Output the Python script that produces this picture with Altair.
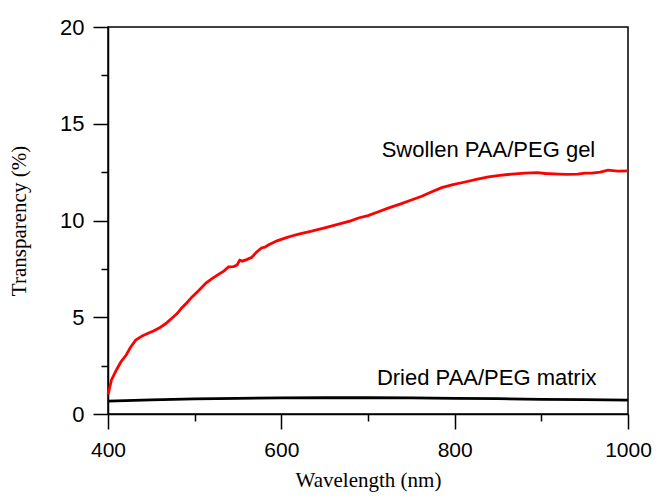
import altair as alt
import pandas as pd

# Swollen gel (red)
sw_x = [400, 404, 410, 415, 421, 426, 432, 440, 447, 453, 459, 466, 474, 480, 485, 491, 497, 505, 513, 520, 528, 534, 539, 545, 549, 552, 555, 560, 566, 571, 577, 581, 585, 595, 605, 612, 620, 635, 650, 665, 680, 689, 700, 712, 724, 737, 750, 762, 773, 785, 798, 812, 825, 839, 852, 866, 881, 895, 905, 920, 930, 942, 950, 958, 968, 977, 988, 1000]
sw_y = [1.0, 1.76, 2.3, 2.7, 3.05, 3.45, 3.82, 4.05, 4.19, 4.3, 4.44, 4.65, 4.96, 5.2, 5.48, 5.75, 6.05, 6.4, 6.77, 7.0, 7.23, 7.4, 7.6, 7.62, 7.7, 7.95, 7.9, 7.98, 8.1, 8.35, 8.58, 8.62, 8.73, 8.95, 9.1, 9.2, 9.3, 9.45, 9.62, 9.8, 9.98, 10.13, 10.25, 10.45, 10.65, 10.85, 11.06, 11.25, 11.47, 11.7, 11.85, 11.99, 12.12, 12.25, 12.33, 12.4, 12.45, 12.47, 12.43, 12.4, 12.38, 12.4, 12.45, 12.45, 12.5, 12.6, 12.55, 12.56]

# Dried matrix (black)
dr_x = [400, 450, 500, 550, 600, 650, 700, 750, 800, 850, 900, 950, 1000]
dr_y = [0.67, 0.73, 0.78, 0.81, 0.83, 0.84, 0.84, 0.83, 0.81, 0.79, 0.76, 0.74, 0.72]

lab_text = ["Swollen PAA/PEG gel", "Dried PAA/PEG matrix"]
lab_x = [839, 837]
lab_y = [13.64, 1.86]

sw = pd.DataFrame({"x": sw_x, "y": sw_y})
dr = pd.DataFrame({"x": dr_x, "y": dr_y})
labs = pd.DataFrame({"t": lab_text, "x": lab_x, "y": lab_y})

x_ticks = [400, 500, 600, 700, 800, 900, 1000]
y_ticks = [0, 2.5, 5, 7.5, 10, 12.5, 15, 17.5, 20]

xs = alt.Scale(domain=[400, 1000], nice=False, zero=False)
ys = alt.Scale(domain=[0, 20], nice=False)

xaxis = alt.Axis(
    title="Wavelength (nm)", values=x_ticks, format="d",
    labelExpr="datum.value % 200 === 0 ? datum.label : ''",
    tickSize={"condition": {"test": "datum.value % 200 === 0", "value": 15}, "value": 7},
    labelPadding=10, labelFont="Liberation Sans", labelFontSize=21,
    labelColor="black", titleFont="Liberation Serif", titleFontSize=21,
    titleFontWeight="normal", titleColor="black", titlePadding=9,
    domainColor="black", tickColor="black", domainWidth=1.5, tickWidth=1.5,
    grid=False, labelFlush=False,
)
yaxis = alt.Axis(
    title="Transparency (%)", values=y_ticks,
    labelExpr="datum.value % 5 === 0 ? datum.label : ''",
    tickSize={"condition": {"test": "datum.value % 5 === 0", "value": 15}, "value": 7},
    labelPadding=9, labelFont="Liberation Sans", labelFontSize=22,
    labelColor="black", titleFont="Liberation Serif", titleFontSize=21,
    titleFontWeight="normal", titleColor="black", titlePadding=30,
    domainColor="black", tickColor="black", domainWidth=1.5, tickWidth=1.5,
    grid=False, labelFlush=False,
)

red = alt.Chart(sw).mark_line(color="#ff0000", strokeWidth=2.8).encode(
    x=alt.X("x:Q", scale=xs, axis=xaxis),
    y=alt.Y("y:Q", scale=ys, axis=yaxis),
)
black = alt.Chart(dr).mark_line(color="black", strokeWidth=2.8).encode(
    x=alt.X("x:Q", scale=xs),
    y=alt.Y("y:Q", scale=ys),
)
text = alt.Chart(labs).mark_text(font="Liberation Sans", fontSize=22, color="black").encode(
    x=alt.X("x:Q", scale=xs),
    y=alt.Y("y:Q", scale=ys),
    text="t:N",
)

chart = alt.layer(red, black, text).properties(
    width=520, height=387,
    autosize=alt.AutoSizeParams(type="none"),
    padding={"left": 100, "top": 19, "right": 24, "bottom": 78},
).configure_view(stroke="black", strokeWidth=1.5)

chart.save("out.html", embed_options={"renderer": "svg", "actions": False})
